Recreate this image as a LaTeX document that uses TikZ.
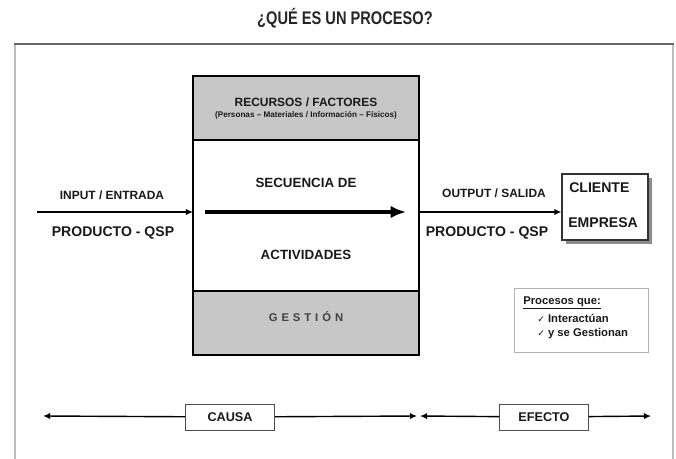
\documentclass[tikz,border=0pt]{standalone}
\usepackage{fontspec}
\setmainfont{Liberation Sans}
\newfontfamily\narrowfont{Liberation Sans}[FakeStretch=0.8]
\newfontfamily\checkfont{DejaVu Sans}
\usepackage{tikz}
\usetikzlibrary{arrows.meta,positioning,shadows}
\tikzstyle{panel}=[
	draw=black,
	line width=1pt,
	fill=black!22,
	rectangle,
	outer sep=0,
	minimum width=5.65cm,
	minimum height=1.6cm]
\tikzstyle{stage}=[
	panel,
	fill=white,
	minimum height=3.775cm]
\tikzstyle{lbl}=[
	inner sep=0,
	text=black!90,
	font=\bfseries\fontsize{8.5}{10}\selectfont]
\tikzstyle{big}=[
	inner sep=0,
	text=black!90,
	font=\bfseries\fontsize{10}{12}\selectfont]
\tikzstyle{tagbox}=[
	draw=black!70,
	line width=.6pt,
	fill=white,
	rectangle,
	minimum width=2.225cm,
	minimum height=.65cm,
	text=black!90,
	font=\bfseries\fontsize{9}{11}\selectfont]
\tikzstyle{client}=[
	draw=black!80,
	line width=.8pt,
	fill=white,
	rectangle,
	minimum width=2.15cm,
	minimum height=1.65cm,
	drop shadow={shadow xshift=.1cm,shadow yshift=-.1cm,fill=black!45,opacity=1}]
\tikzstyle{note}=[
	draw=black!30,
	line width=.6pt,
	rectangle,
	minimum width=3.35cm,
	minimum height=1.6cm]
\tikzstyle{small}=[
	inner sep=0,
	text=black!90,
	font=\bfseries\fontsize{8}{10}\selectfont]
\tikzstyle{flow}=[-{Latex[length=5pt,width=4.5pt]},line width=1pt]
\begin{document}
\begin{tikzpicture}[x=0.025cm,y=-0.025cm,>=latex]
	\useasboundingbox (0,0) rectangle (676,459);
	% frame
	\draw[black!25,line width=2pt] (15,44) -- (15,459);
	\draw[black!25,line width=2pt] (673,44) -- (673,459);
	\draw[black!60,line width=1.5pt] (14,44) -- (674,44);
	\node[inner sep=0,text=black!85,font=\narrowfont\bfseries\fontsize{13}{15}\selectfont] (title) at (345,18) {¿QUÉ ES UN PROCESO?};
	% process box
	\begin{scope}
		\node[panel]	(rec)	at (306,108)	{};
		\node[stage]	(act)	[below=0 of rec]	{};
		\node[panel]	(ges)	[below=0 of act]	{};
	\end{scope}
	\node[lbl] (recT) at (306,102) {RECURSOS / FACTORES};
	\node[lbl,font=\bfseries\fontsize{5.8}{7}\selectfont] (recS) at (306,115) {(Personas – Materiales / Información – Físicos)};
	\node[big,font=\bfseries\fontsize{9.5}{11}\selectfont] (seqT) at (306,183) {SECUENCIA DE};
	\node[big,font=\bfseries\fontsize{9.5}{11}\selectfont] (seqB) at (306,255) {ACTIVIDADES};
	\coordinate (seqS) at (205,212);
	\coordinate (seqE) at (406,212);
	\draw[-{Latex[length=11pt,width=9pt]},line width=2.4pt] (seqS) -- (seqE);
	\node[lbl,text=black!75,font=\bfseries\fontsize{8}{10}\selectfont\addfontfeature{LetterSpace=35}] (gesT) at (306,317) {GESTIÓN};
	% input
	\coordinate (inS) at (37,212);
	\draw[flow] (inS) -- (inS -| act.west);
	\node[lbl] (inT) at (112,195) {INPUT / ENTRADA};
	\node[big] (inP) at (113,233) {PRODUCTO - QSP};
	% output
	\node[client]	(cli)	at (605,207)	{};
	\node[big,anchor=west] (cliT) at (569,188) {CLIENTE};
	\node[big,anchor=west] (cliB) at (568,223) {EMPRESA};
	\draw[flow] (act.east |- inS) -- (cli.west |- inS);
	\node[lbl] (outT) at (494,193) {OUTPUT / SALIDA};
	\node[big] (outP) at (487,233) {PRODUCTO - QSP};
	% note
	\node[note]	(procs)	at (581,320)	{};
	\node[small,anchor=west] (procA) at (523,303) {\underline{Procesos que:}};
	\node[small,anchor=west] (procB) at (537,318) {{\checkfont\fontsize{6.5}{8}\selectfont ✓}\ Interactúan};
	\node[small,anchor=west] (procC) at (537,334) {{\checkfont\fontsize{6.5}{8}\selectfont ✓}\ y se Gestionan};
	% cause and effect
	\node[tagbox]	(causa)	at (230,417)	{CAUSA};
	\node[tagbox]	(efecto)	at (544,417)	{EFECTO};
	\coordinate (bL) at (43,416);
	\coordinate (bM1) at (417,416);
	\coordinate (bM2) at (420,416);
	\coordinate (bR) at (651,416);
	\draw[flow] (causa) -- (bL);
	\draw[flow] (causa) -- (bM1);
	\draw[flow] (efecto) -- (bM2);
	\draw[flow] (efecto) -- (bR);
\end{tikzpicture}
\end{document}
